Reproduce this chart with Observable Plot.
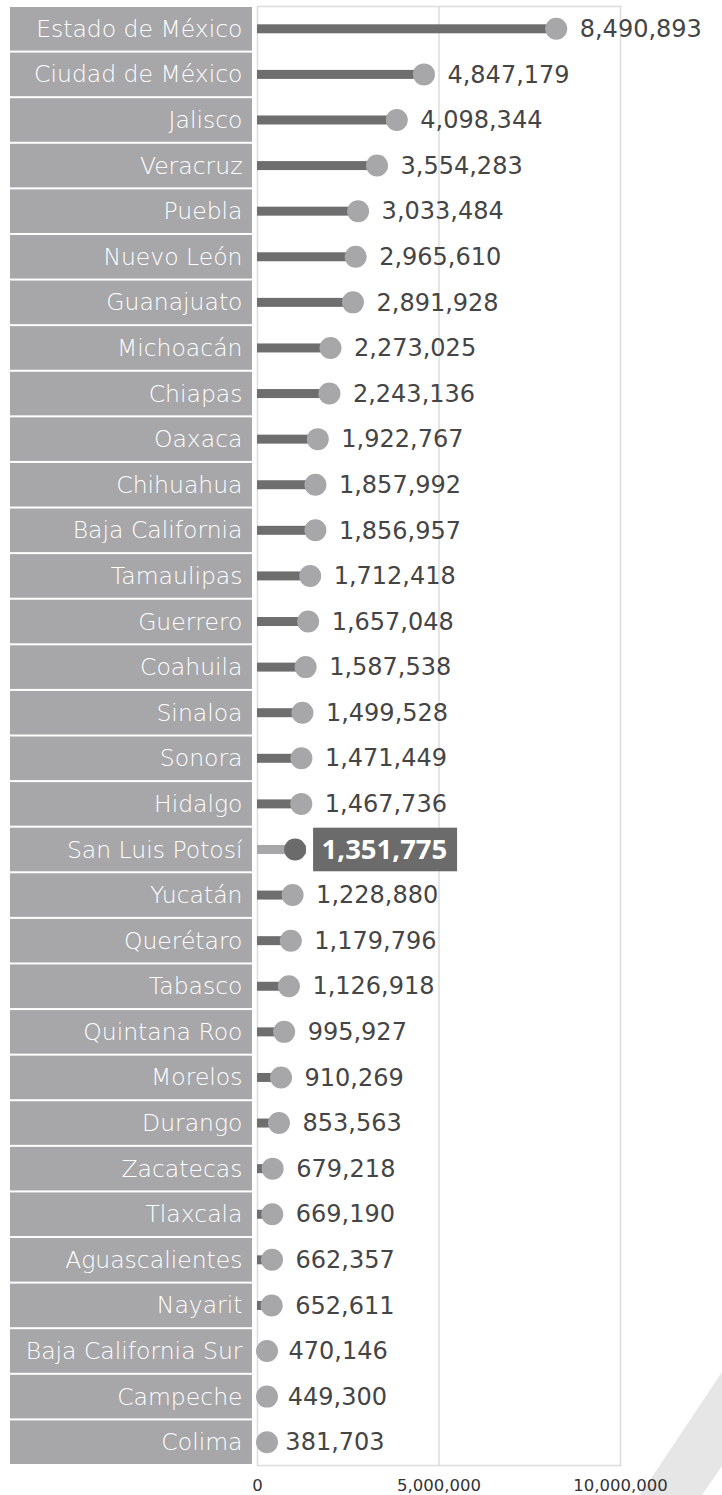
<!DOCTYPE html>
<html>
<head>
<meta charset="utf-8">
<script src="https://cdn.jsdelivr.net/npm/d3@7"></script>
<script src="https://cdn.jsdelivr.net/npm/@observablehq/plot@0.6"></script>
<style>
  html, body { margin: 0; padding: 0; background: #fff; }
  #wrap { position: relative; width: 722px; height: 1495px; overflow: hidden; }
  #stripe { position: absolute; left: 0; top: 0; width: 722px; height: 1495px;
    background: #e6e6e6; clip-path: polygon(640px 1495px, 702px 1495px, 722px 1466px, 722px 1372px); }
  #chart { position: absolute; left: 0; top: 0; }
</style>
</head>
<body>
<div id="wrap"><div id="stripe"></div><div id="chart"></div></div>
<script>
const states = ["Estado de México","Ciudad de México","Jalisco","Veracruz","Puebla","Nuevo León","Guanajuato","Michoacán","Chiapas","Oaxaca","Chihuahua","Baja California","Tamaulipas","Guerrero","Coahuila","Sinaloa","Sonora","Hidalgo","San Luis Potosí","Yucatán","Querétaro","Tabasco","Quintana Roo","Morelos","Durango","Zacatecas","Tlaxcala","Aguascalientes","Nayarit","Baja California Sur","Campeche","Colima"];
const population = [8490893,4847179,4098344,3554283,3033484,2965610,2891928,2273025,2243136,1922767,1857992,1856957,1712418,1657048,1587538,1499528,1471449,1467736,1351775,1228880,1179796,1126918,995927,910269,853563,679218,669190,662357,652611,470146,449300,381703];
const highlight = "San Luis Potosí";
const xTicks = [0, 5000000, 10000000];

const rows = states.map((name, i) => ({name, value: population[i], hi: name === highlight}));
const normal = rows.filter(d => !d.hi);
const special = rows.filter(d => d.hi);
const fmt = d3.format(",");

const FONT = "DejaVu Sans";

// label boxes drawn in the left margin using the y scale
function labelBoxes(data) {
  return Plot.dot(data, {x: "value", y: "name", render(index, scales) {
    const g = d3.create("svg:g");
    const bw = scales.y.bandwidth ? scales.y.bandwidth() : 0;
    for (const i of index) {
      g.append("rect")
        .attr("x", 10).attr("width", 242)
        .attr("y", scales.y(data[i].name) + 1)
        .attr("height", bw - 2)
        .attr("fill", "#a7a7aa");
    }
    return g.node();
  }});
}

function valueBox(data) {
  return Plot.dot(data, {x: "value", y: "name", render(index, scales) {
    const g = d3.create("svg:g");
    const bw = scales.y.bandwidth ? scales.y.bandwidth() : 0;
    for (const i of index) {
      g.append("rect")
        .attr("x", scales.x(data[i].value) + 7).attr("width", 144)
        .attr("y", scales.y(data[i].name) + 1)
        .attr("height", bw - 2)
        .attr("fill", "#6b6b6b");
    }
    return g.node();
  }});
}

// dots: the marker sits just inside the bar end, but never past the left edge
function markers(data, fill, offset) {
  return Plot.dot(data, {x: "value", y: "name", render(index, scales) {
    const g = d3.create("svg:g");
    const bw = scales.y.bandwidth ? scales.y.bandwidth() : 0;
    const x0 = scales.x(0);
    for (const i of index) {
      const cx = Math.max(scales.x(data[i].value) - offset, x0 + 10);
      g.append("circle")
        .attr("cx", cx).attr("cy", scales.y(data[i].name) + bw / 2)
        .attr("r", 11).attr("fill", fill);
    }
    return g.node();
  }});
}

const chart = Plot.plot({
  width: 722,
  height: 1495,
  marginLeft: 257,
  marginRight: 102,
  marginTop: 6,
  marginBottom: 30,
  style: {fontFamily: FONT, background: "transparent", overflow: "visible"},
  x: {domain: [0, 10000000], axis: null},
  y: {domain: states, padding: 0, round: false, axis: null},
  marks: [
    labelBoxes(rows),
    Plot.frame({stroke: "#dcdcdc", strokeWidth: 1.5}),
    Plot.ruleX([5000000], {stroke: "#dcdcdc", strokeWidth: 1.5}),
    Plot.axisY({tickSize: 0, tickPadding: 15, fontSize: 23.5, fill: "white", fontWeight: 300, label: null, style: {letterSpacing: "0.6px"}}),
    Plot.axisX({ticks: xTicks, tickFormat: fmt, tickSize: 0, tickPadding: 14, fontSize: 16.5, fill: "#333", label: null}),
    Plot.barX(normal, {x1: 0, x2: "value", y: "name", fill: "#6e6e6e", insetTop: 18.3, insetBottom: 18.3}),
    Plot.barX(special, {x1: 0, x2: "value", y: "name", fill: "#a7a7aa", insetTop: 18.3, insetBottom: 18.3}),
    markers(normal, "#a7a7aa", 9),
    markers(special, "#6b6b6b", 11),
    Plot.text(normal, {x: "value", y: "name", text: d => fmt(d.value), textAnchor: "start", dx: 14, fontSize: 24, fill: "#454545"}),
    valueBox(special),
    Plot.text(special, {x: "value", y: "name", text: d => fmt(d.value), textAnchor: "start", dx: 15, fontSize: 27.5, fill: "white", fontWeight: "bold", fontFamily: "Open Sans"})
  ]
});
document.getElementById("chart").append(chart);
</script>
</body>
</html>
